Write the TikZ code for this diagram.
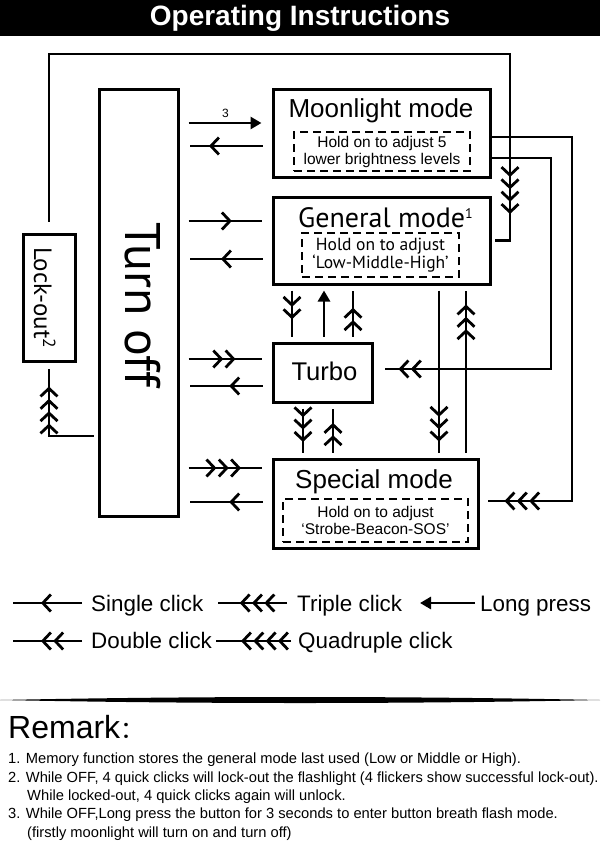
\documentclass[tikz,border=0pt]{standalone}
\usepackage{fontspec}
\setmainfont{Liberation Sans}
\newfontfamily\myriad{PT Sans}
\newfontfamily\cjk{Noto Sans CJK SC}
\usetikzlibrary{calc,arrows.meta,decorations.markings}

\begin{document}
\begin{tikzpicture}[x=1pt,y=-1pt,
		>={Straight Barb[length=8pt,width=17pt,sep=1pt]},
		box/.style={draw, line width=3pt, inner sep=0pt},
		dbox/.style={draw, line width=2.7pt, dash pattern=on 8pt off 5pt, inner sep=0pt, align=center},
		link/.style={line width=2.8pt},
		hlink/.style={link, shorten <=9pt, shorten >=10pt},
		vlink/.style={link, shorten <=5pt, shorten >=5pt},
		clk/.style 2 args={decoration={markings, mark=at position #1 with {\arrow{#2}}}, postaction={decorate}},
		hold/.style={-{Triangle[length=11pt,width=12pt]}},
		lgd/.style={anchor=base west, inner sep=0pt, font=\fontsize{22.4}{24}\selectfont},
		rem/.style={anchor=base west, inner sep=0pt, font=\fontsize{14.7}{16}\selectfont}]
	\useasboundingbox (0,0) rectangle (600,862);
	% title bar
	\fill (0,0) rectangle (600,36);
	\node[anchor=base, text=white, font=\bfseries\fontsize{28}{30}\selectfont] (title) at (300,25) {Operating Instructions};
	% boxes
	\node[box, minimum width=79pt, minimum height=427pt] (toff) at (138.5,302.5) {};
	\node[box, minimum width=217pt, minimum height=88pt] (ml) at (381.5,133) {};
	\node[box, minimum width=217pt, minimum height=87pt] (gm) at (381.5,240.5) {};
	\node[box, minimum width=99pt, minimum height=59pt] (tb) at (322.5,372.5) {};
	\node[box, minimum width=205pt, minimum height=89pt] (sm) at (375.5,503.5) {};
	\node[box, minimum width=52pt, minimum height=127pt] (lk) at (49,297.5) {};
	% box texts
	\node[rotate=-90, anchor=base west, inner sep=0pt, font=\myriad\fontsize{50}{50}\selectfont] (toffl) at (125,222) {Turn off};
	\node[rotate=-90, anchor=base west, inner sep=0pt, font=\myriad\fontsize{25}{25}\selectfont] (lkl) at (34,247) {Lock-out\textsuperscript{2}};
	\node[anchor=base, inner sep=0pt, font=\fontsize{26}{26}\selectfont] (mlt) at (381,117) {Moonlight mode};
	\node[anchor=base, inner sep=0pt, font=\myriad\fontsize{28}{28}\selectfont] (gmt) at (385.5,227) {General mode{\fontsize{14}{14}\selectfont\raisebox{9pt}{1}}};
	\node[anchor=base, inner sep=0pt, font=\fontsize{25.6}{26}\selectfont] (tbt) at (324.5,380) {Turbo};
	\node[anchor=base, inner sep=0pt, font=\fontsize{26}{26}\selectfont] (smt) at (374,488) {Special mode};
	\node[dbox, minimum width=176pt, minimum height=39pt, font=\fontsize{15.5}{17}\selectfont] (mld) at (382,151.5) {Hold on to adjust 5\\lower brightness levels};
	\node[dbox, minimum width=157pt, minimum height=44pt, font=\myriad\fontsize{17.5}{18.5}\selectfont] (gmd) at (380.5,255) {Hold on to adjust\\‘Low-Middle-High’};
	\node[dbox, minimum width=185pt, minimum height=43pt, font=\fontsize{15.5}{17}\selectfont] (smd) at (375.5,520.5) {Hold on to adjust\\‘Strobe-Beacon-SOS’};
	% rows, columns and corners
	\coordinate (r1) at (0,123);
	\coordinate (r2) at (0,146);
	\coordinate (r3) at (0,221);
	\coordinate (r4) at (0,259);
	\coordinate (r5) at (0,359);
	\coordinate (r6) at (0,386);
	\coordinate (r7) at (0,468);
	\coordinate (r8) at (0,502);
	\coordinate (r9) at (0,436);
	\coordinate (m1) at (0,137);
	\coordinate (m2) at (0,158);
	\coordinate (c1) at (292,0);
	\coordinate (c2) at (324,0);
	\coordinate (c3) at (353,0);
	\coordinate (c4) at (303,0);
	\coordinate (c5) at (333,0);
	\coordinate (c6) at (439,0);
	\coordinate (c7) at (466,0);
	\coordinate (k1) at (510,54);
	\coordinate (k2) at (572,501);
	\coordinate (k3) at (551,369);
	% turn off <-> modes
	\draw[hlink, hold] (toff.east |- r1) -- (ml.west |- r1);
	\node[above=2pt, font=\fontsize{12}{12}\selectfont] (n3) at ($(toff.east |- r1)!0.5!(ml.west |- r1)$) {3};
	\draw[hlink, clk={0.69}{>}] (ml.west |- r2) -- (toff.east |- r2);
	\draw[hlink, clk={0.58}{>}] (toff.east |- r3) -- (gm.west |- r3);
	\draw[hlink, clk={0.56}{>}] (gm.west |- r4) -- (toff.east |- r4);
	\draw[hlink, clk={0.62}{>>}] (toff.east |- r5) -- (tb.west |- r5);
	\draw[hlink, clk={0.47}{>}] (tb.west |- r6) -- (toff.east |- r6);
	\draw[hlink, clk={0.68}{>>>}] (toff.east |- r7) -- (sm.west |- r7);
	\draw[hlink, clk={0.47}{>}] (sm.west |- r8) -- (toff.east |- r8);
	% between modes
	\draw[vlink, clk={0.62}{>>}] (gm.south -| c1) -- (tb.north -| c1);
	\draw[vlink, hold] (tb.north -| c2) -- (gm.south -| c2);
	\draw[vlink, clk={0.62}{>>}] (tb.north -| c3) -- (gm.south -| c3);
	\draw[vlink, clk={0.73}{>>>}] (tb.south -| c4) -- (sm.north -| c4);
	\draw[vlink, clk={0.66}{>>}] (sm.north -| c5) -- (tb.south -| c5);
	\draw[vlink, clk={-15pt}{>>>}] (gm.south -| c6) -- (sm.north -| c6);
	\draw[vlink, clk={-18pt}{>>>}] (sm.north -| c7) -- (gm.south -| c7);
	% outer loops
	\draw[link, shorten <=11pt, shorten >=3pt, clk={-44pt}{>>>>}] (lk.north) |- (k1) |- (gm.east);
	\draw[link, shorten <=4pt, shorten >=6pt, clk={-23pt}{>>>>}] (toff.west |- r9) -| (lk.south);
	\draw[link, shorten >=8pt, clk={-24pt}{>>>}] (ml.east |- m1) -| (k2) -- (sm.east |- k2);
	\draw[link, shorten >=11pt, clk={-24pt}{>>}] (ml.east |- m2) -| (k3) -- (tb.east |- k3);
	% legend
	\node[lgd] (l1) at (91,611) {Single click};
	\node[lgd] (l2) at (297,611) {Triple click};
	\node[lgd] (l3) at (480,611) {Long press};
	\node[lgd] (l4) at (91,648) {Double click};
	\node[lgd] (l5) at (298,648) {Quadruple click};
	\draw[link, clk={0.61}{>}] ([xshift=-9pt,yshift=8pt]l1.base west) -- ++(-69,0);
	\draw[link, clk={0.70}{>>>}] ([xshift=-10pt,yshift=8pt]l2.base west) -- ++(-69,0);
	\draw[link, hold] ([xshift=-5pt,yshift=8pt]l3.base west) -- ++(-55,0);
	\draw[link, clk={0.61}{>>}] ([xshift=-9pt,yshift=7pt]l4.base west) -- ++(-69,0);
	\draw[link, clk={0.68}{>>>>}] ([xshift=-7pt,yshift=7pt]l5.base west) -- ++(-75,0);
	% remark
	\fill (0,700) .. controls (200,696) and (400,696) .. (600,700) .. controls (400,704) and (200,704) .. (0,700) -- cycle;
	\node[anchor=base west, inner sep=0pt, font=\fontsize{32}{32}\selectfont] (remk) at (8,738) {Remark{\cjk\fontsize{24}{24}\selectfont ：}};
	\node[rem] (i1) at (8,763) {1. Memory function stores the general mode last used (Low or Middle or High).};
	\node[rem] (i2) at (8,782) {2. While OFF, 4 quick clicks will lock-out the flashlight (4 flickers show successful lock-out).};
	\node[rem] (i2b) at (27,800) {While locked-out, 4 quick clicks again will unlock.};
	\node[rem] (i3) at (8,818) {3. While OFF,Long press the button for 3 seconds to enter button breath flash mode.};
	\node[rem] (i3b) at (27,837) {(firstly moonlight will turn on and turn off)};
\end{tikzpicture}
\end{document}
